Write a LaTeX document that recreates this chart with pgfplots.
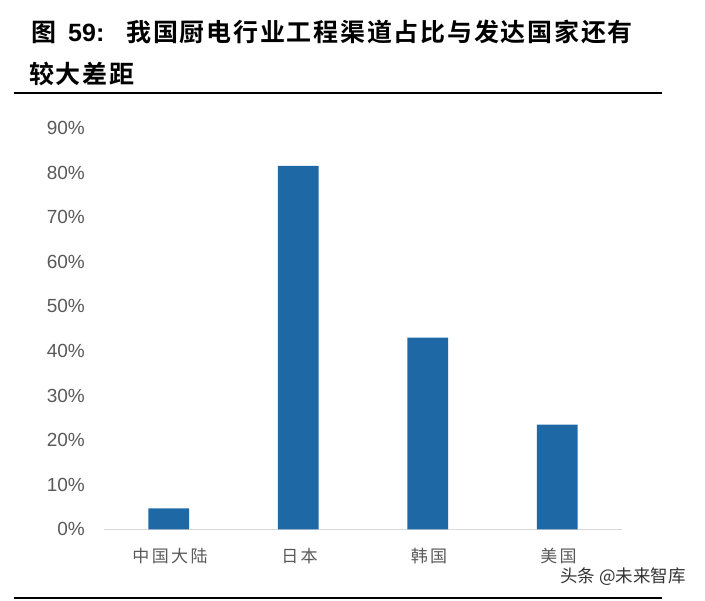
\documentclass[border=0pt]{standalone}
\usepackage{pgfplots}
\pgfplotsset{compat=1.18}
\usepackage{fontspec}
\setmainfont{Liberation Sans}
\newfontfamily\cjk{Noto Sans CJK SC}
\newfontfamily\cjkx[LetterSpace=14]{Noto Sans CJK SC}
\newfontfamily\cjkb[LetterSpace=7]{Noto Sans CJK SC Bold}
\definecolor{barblue}{RGB}{30,104,165}
\definecolor{ticktxt}{RGB}{89,89,89}
\definecolor{axgray}{RGB}{217,217,217}
\begin{document}
\begin{tikzpicture}[x=1bp,y=1bp]
\path[use as bounding box] (0,0) rectangle (705,601);
% title
\node[anchor=west,inner sep=0pt] at (31,569) {\fontsize{25bp}{30bp}\selectfont\cjkb 图\hspace{12bp}{\bfseries\fontspec{Liberation Sans}59:}\hspace{22bp}我国厨电行业工程渠道占比与发达国家还有};
\node[anchor=west,inner sep=0pt] at (29,527) {\fontsize{25bp}{30bp}\selectfont\cjkb 较大差距};
\draw[line width=2.6bp,black] (14,508) -- (662,508);
\draw[line width=2.6bp,black] (14,3) -- (662,3);
\node[anchor=west,inner sep=0pt,text=black!80] at (560,24) {\fontsize{17.5bp}{20bp}\selectfont\cjk 头条 @未来智库};
\begin{axis}[
  at={(104bp,71.7bp)}, anchor=south west,
  scale only axis, width=518bp, height=401.3bp,
  xmin=-0.5, xmax=3.5, ymin=0, ymax=90,
  axis x line*=bottom, axis y line*=left,
  x axis line style={draw=axgray,line width=1.5bp,-},
  y axis line style={draw=none},
  major tick length=0,
  xtick={0,1,2,3},
  xticklabels={中国大陆,日本,韩国,美国},
  ytick={0,10,...,90},
  yticklabel={\pgfmathprintnumber{\tick}\%},
  /pgf/number format/assume math mode=true,
  yticklabel style={font=\fontsize{19bp}{22bp}\selectfont, text=ticktxt, anchor=east, inner sep=0pt, xshift=-19bp},
  xticklabel style={font=\fontsize{17bp}{20bp}\selectfont\cjkx, text=ticktxt, anchor=center, inner sep=0pt, yshift=-26.5bp, xshift=1.2bp},
  ybar, bar width=40.6bp,
  clip=false,
]
\addplot[fill=barblue, draw=none] coordinates {(0,4.7) (1,81.5) (2,43.0) (3,23.5)};
\end{axis}
\end{tikzpicture}
\end{document}
